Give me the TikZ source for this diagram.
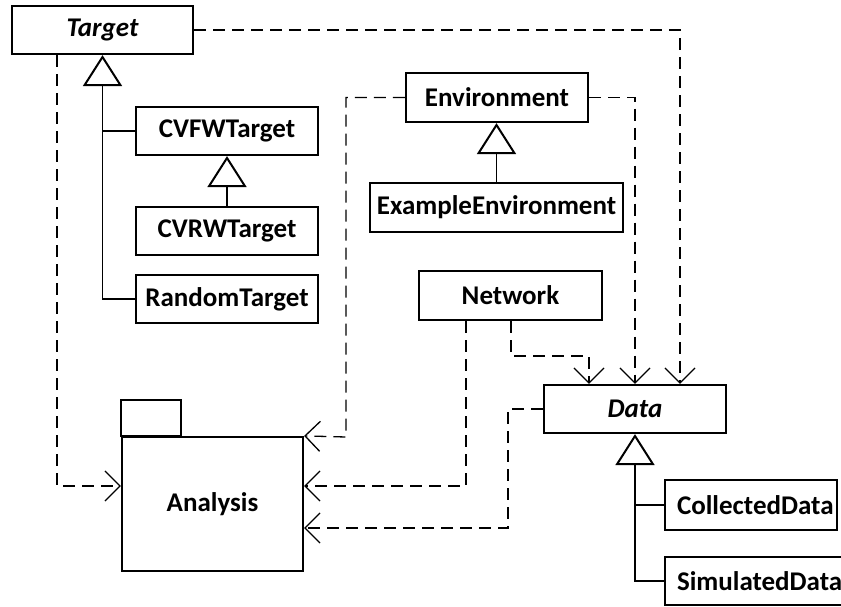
\documentclass[tikz,border=0pt]{standalone}
\usepackage{fontspec}
\setmainfont{Carlito}
\usetikzlibrary{arrows.meta,calc}

\tikzset{
  cls/.style={draw, line width=2.2pt, minimum height=48pt, inner sep=0pt,
    font=\fontsize{27}{31}\selectfont\bfseries},
  abscls/.style={cls, font=\fontsize{27}{31}\selectfont\bfseries\itshape},
  leftcls/.style={cls, align=left, inner xsep=12pt},
  dep/.style={line width=1.3pt, dash pattern=on 12pt off 7pt,
    -{Straight Barb[length=15pt,width=30pt]}},
  genln/.style={line width=1.3pt,
    -{Triangle[open,length=31pt,width=39pt,line width=2pt]}},
  tree/.style={line width=1.3pt},
}

\begin{document}
\begin{tikzpicture}[x=1pt,y=-1pt]
\useasboundingbox (0,0) rectangle (841,607);
\clip (0,0) rectangle (841,607);

% classes
\node[abscls, minimum width=181pt] (tgt) at (102.5,30) {Target};
\node[cls, minimum width=182pt] (cvfw) at (227,131) {CVFWTarget};
\node[cls, minimum width=182pt] (cvrw) at (227,231) {CVRWTarget};
\node[cls, minimum width=182pt] (rnd)  at (227,299) {RandomTarget};

\node[cls, minimum width=182pt, minimum height=49pt] (env) at (497,97.5) {Environment};
\node[cls, minimum width=253pt, minimum height=49pt] (exenv) at (496.5,207.5) {ExampleEnvironment};
\node[cls, minimum width=183pt, minimum height=49pt] (net) at (510.5,295.5) {Network};

\node[abscls, minimum width=182pt] (data) at (635,409) {Data};
\node[leftcls, text width=148pt, minimum height=50pt] (col) at (751,505) {CollectedData};
\node[leftcls, text width=190pt, minimum height=48pt] (sim) at (772,581) {SimulatedData};

% package
\node[cls, minimum width=181pt, minimum height=134pt] (ana) at (212.5,504) {Analysis};
\draw[line width=2.2pt] (ana.north west) rectangle ++(60,-36);

% generalisations
\draw[genln] (rnd.west) -| (tgt.south);
\draw[tree] (cvfw.west) -- (cvfw.west -| tgt.south);
\draw[genln] (cvrw.north) -- (cvfw.south);
\draw[genln] (exenv.north) -- (exenv.north |- env.south);
\draw[genln] (sim.west) -| (data.south);
\draw[tree] (col.west) -- (col.west -| data.south);

% dependencies
\draw[dep] (tgt.east) -| ([xshift=45pt]data.north);
\draw[dep] ([xshift=-45.5pt]tgt.south) |- ([yshift=18pt]ana.west);
\draw[dep] (env.east) -| (data.north);
\coordinate (eturn) at (346,437);
\draw[dep] (env.west) -| (eturn) -- (ana.north east);
\coordinate (nturn) at (589,356);
\draw[dep] ([xshift=0.5pt]net.south) |- (nturn) -- ([xshift=-46pt]data.north);
\draw[dep] ([xshift=-44.5pt]net.south) |- ([yshift=18pt]ana.east);
\coordinate (dturn) at (508,528);
\draw[dep] (data.west) -| (dturn) -- ([yshift=-24pt]ana.east);
\end{tikzpicture}
\end{document}
